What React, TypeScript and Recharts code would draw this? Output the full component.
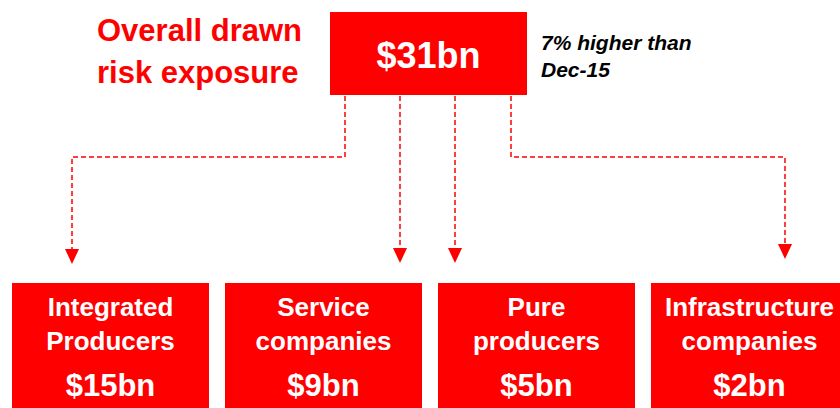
import React from "react";
import { ScatterChart, Scatter, XAxis, YAxis, ReferenceArea } from "recharts";

// ---- data ----
const titleLines = ["Overall drawn", "risk exposure"];
const totalValue = 31;
const changeNote = ["7% higher than", "Dec-15"];
const categories = [
  ["Integrated", "Producers"],
  ["Service", "companies"],
  ["Pure", "producers"],
  ["Infrastructure", "companies"],
];
const values = [15, 9, 5, 2];

// connector routes (source on top box -> arrow tip above segment box)
const connectorSourceX = [345, 400, 455, 511];
const connectorTargetX = [72, 400, 455, 785];
const connectorElbowY = [157, null, null, 157];
const arrowTipY = [264, 263, 263, 259];

const RED = "#FF0000";
const FONT = "'Liberation Sans', Arial, sans-serif";

const W = 840;
const H = 408;
const TOP_BOX = { x1: 330, x2: 527, y1: 12, y2: 95 };
const BOX_X0 = 12;
const BOX_STEP = 213;
const BOX_W = 197;
const BOX_Y = 283;

const fmt = (v: number) => `$${v}bn`;

const buildPath = (i: number) => {
  const sx = connectorSourceX[i];
  const tx = connectorTargetX[i];
  const ey = connectorElbowY[i];
  const endY = arrowTipY[i] - 14;
  const pts = [{ x: sx, y: TOP_BOX.y2 + 1 }];
  if (ey !== null) {
    pts.push({ x: sx, y: ey });
    pts.push({ x: tx, y: ey });
  }
  pts.push({ x: tx, y: endY });
  return pts;
};

const arrowData = connectorTargetX.map((x, i) => ({ x, y: arrowTipY[i] }));

const ArrowHead = (props: any) => {
  const { cx, cy } = props;
  if (cx == null || cy == null) return null;
  return <path d={`M${cx - 7},${cy - 15} L${cx + 7},${cy - 15} L${cx},${cy} Z`} fill={RED} />;
};

const BottomLabel = (i: number) => (props: any) => {
  const vb = props.viewBox || {};
  const cx = vb.x + vb.width / 2;
  const top = vb.y;
  return (
    <g fontFamily={FONT} fontWeight="bold" fill="#fff" textAnchor="middle">
      <text x={cx} y={top + 33} fontSize={26} fill="#fff">{categories[i][0]}</text>
      <text x={cx} y={top + 67} fontSize={26} fill="#fff">{categories[i][1]}</text>
      <text x={cx} y={top + 113} fontSize={31} fill="#fff">{fmt(values[i])}</text>
    </g>
  );
};

const TopLabel = (props: any) => {
  const vb = props.viewBox || {};
  const cx = vb.x + vb.width / 2;
  return (
    <g fontFamily={FONT} fontWeight="bold">
      <text x={cx} y={vb.y + 56} fontSize={36} fill="#fff" textAnchor="middle">{fmt(totalValue)}</text>
      <text x={97} y={41} fontSize={31} fill={RED}>{titleLines[0]}</text>
      <text x={97} y={83} fontSize={31} fill={RED}>{titleLines[1]}</text>
      <text x={541} y={50} fontSize={21} fontStyle="italic" fill="#000">{changeNote[0]}</text>
      <text x={541} y={77} fontSize={21} fontStyle="italic" fill="#000">{changeNote[1]}</text>
    </g>
  );
};

export default function App() {
  return (
    <div style={{ position: "absolute", left: 0, top: 0, background: "#fff" }}>
      <ScatterChart width={W} height={H} margin={{ top: 0, right: 0, bottom: 0, left: 0 }}>
        <XAxis type="number" dataKey="x" domain={[0, W]} hide allowDataOverflow />
        <YAxis type="number" dataKey="y" domain={[0, H]} reversed hide allowDataOverflow width={0} />
        <ReferenceArea
          x1={TOP_BOX.x1}
          x2={TOP_BOX.x2}
          y1={TOP_BOX.y1}
          y2={TOP_BOX.y2}
          fill={RED}
          fillOpacity={1}
          stroke="none"
          ifOverflow="visible"
          label={{ content: TopLabel }}
        />
        {categories.map((_, i) => (
          <ReferenceArea
            key={i}
            x1={BOX_X0 + i * BOX_STEP}
            x2={BOX_X0 + i * BOX_STEP + BOX_W}
            y1={BOX_Y}
            y2={BOX_Y + 130}
            fill={RED}
            fillOpacity={1}
            stroke="none"
            ifOverflow="visible"
            label={{ content: BottomLabel(i) }}
          />
        ))}
        {categories.map((_, i) => (
          <Scatter
            key={`c${i}`}
            data={buildPath(i)}
            line={{ stroke: RED, strokeWidth: 1.5, strokeDasharray: "5 3" }}
            lineType="joint"
            shape={() => null}
            isAnimationActive={false}
          />
        ))}
        <Scatter data={arrowData} shape={<ArrowHead />} isAnimationActive={false} />
      </ScatterChart>
    </div>
  );
}
